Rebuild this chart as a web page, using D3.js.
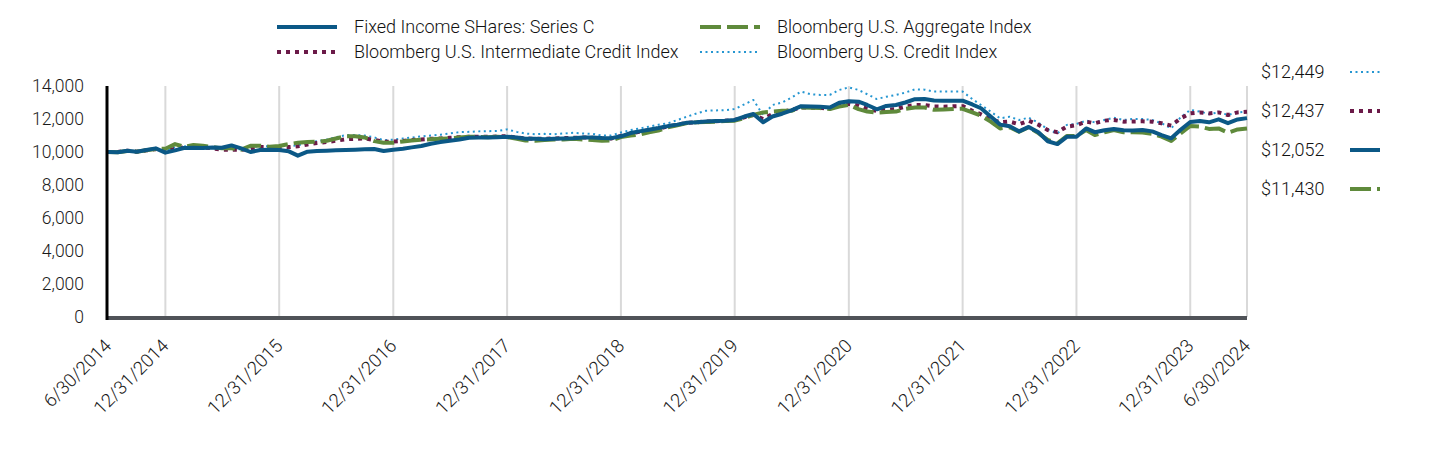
<!DOCTYPE html>
<html><head><meta charset="utf-8">
<script src="https://cdn.jsdelivr.net/npm/d3@7"></script>
<style>
html,body{margin:0;padding:0;background:#fff;}
text{font-family:Roboto,"Noto Sans",sans-serif;font-weight:300;}
</style></head>
<body><svg id="c" width="1440" height="456"></svg>
<script>
const seriesNames = ["Fixed Income SHares: Series C","Bloomberg U.S. Aggregate Index","Bloomberg U.S. Intermediate Credit Index","Bloomberg U.S. Credit Index"];
const tickLabels = ["6/30/2014","12/31/2014","12/31/2015","12/31/2016","12/31/2017","12/31/2018","12/31/2019","12/31/2020","12/31/2021","12/31/2022","12/31/2023","6/30/2024"];
const yTicks = [0,2000,4000,6000,8000,10000,12000,14000];
const endLabels = ["$12,449","$12,437","$12,052","$11,430"];
const endOrder = ["credit","inter","fund","agg"];

// monthly values in thousands, Jun 2014 .. Jun 2024
const fund = [10.00,9.98,10.08,10.02,10.12,10.22,9.96,10.10,10.24,10.26,10.24,10.28,10.26,10.40,10.22,10.00,10.12,10.14,10.12,10.04,9.78,10.02,10.06,10.08,10.10,10.12,10.14,10.16,10.18,10.06,10.14,10.20,10.28,10.36,10.50,10.60,10.68,10.76,10.86,10.88,10.88,10.90,10.93,10.88,10.80,10.80,10.78,10.80,10.82,10.84,10.88,10.88,10.85,10.84,10.95,11.15,11.25,11.35,11.45,11.57,11.66,11.78,11.80,11.85,11.88,11.90,11.94,12.15,12.30,11.80,12.15,12.32,12.52,12.78,12.76,12.74,12.70,12.98,13.08,13.05,12.85,12.59,12.79,12.85,13.00,13.20,13.21,13.12,13.11,13.11,13.11,12.88,12.65,12.15,11.66,11.56,11.25,11.52,11.20,10.65,10.48,10.92,10.93,11.43,11.20,11.32,11.40,11.32,11.30,11.33,11.25,11.02,10.83,11.35,11.82,11.88,11.80,11.98,11.75,11.97,12.052];
const agg = [10.00,9.98,10.06,10.02,10.10,10.18,10.20,10.48,10.32,10.42,10.38,10.30,10.22,10.22,10.14,10.38,10.38,10.32,10.36,10.48,10.56,10.60,10.62,10.68,10.82,10.95,10.96,10.88,10.66,10.56,10.56,10.64,10.70,10.74,10.77,10.80,10.83,10.88,10.93,10.92,10.90,10.92,10.90,10.80,10.70,10.68,10.72,10.75,10.76,10.80,10.76,10.72,10.68,10.70,10.90,11.00,11.05,11.20,11.30,11.50,11.62,11.75,11.80,11.82,11.84,11.88,11.90,12.05,12.25,12.40,12.45,12.50,12.50,12.70,12.68,12.66,12.60,12.75,12.85,12.60,12.45,12.38,12.42,12.45,12.62,12.70,12.70,12.56,12.58,12.60,12.62,12.40,12.20,11.84,11.43,11.50,11.23,11.50,11.15,10.73,10.52,10.97,10.97,11.33,11.03,11.20,11.33,11.20,11.20,11.18,11.10,10.93,10.67,11.13,11.58,11.54,11.40,11.43,11.17,11.37,11.430];
const inter = [10.00,10.00,10.08,10.02,10.10,10.18,10.05,10.20,10.28,10.30,10.28,10.22,10.14,10.14,10.12,10.22,10.30,10.30,10.30,10.30,10.35,10.46,10.54,10.60,10.68,10.77,10.80,10.82,10.73,10.62,10.63,10.67,10.72,10.76,10.80,10.82,10.86,10.90,10.92,10.93,10.92,10.94,10.96,10.88,10.82,10.80,10.80,10.82,10.84,10.86,10.88,10.86,10.82,10.82,10.98,11.12,11.22,11.32,11.42,11.55,11.65,11.76,11.80,11.85,11.86,11.90,11.94,12.10,12.25,12.00,12.30,12.45,12.55,12.70,12.68,12.68,12.62,12.86,12.92,12.82,12.62,12.48,12.55,12.60,12.75,12.85,12.85,12.76,12.75,12.77,12.78,12.50,12.28,12.00,11.80,11.84,11.68,11.90,11.65,11.33,11.20,11.54,11.62,11.84,11.74,11.90,11.94,11.84,11.85,11.86,11.84,11.74,11.60,12.04,12.34,12.40,12.34,12.40,12.24,12.40,12.437];
const credit = [10.00,10.00,10.08,10.02,10.12,10.20,10.10,10.28,10.34,10.38,10.35,10.28,10.20,10.18,10.16,10.28,10.35,10.35,10.36,10.36,10.40,10.56,10.65,10.75,10.90,11.02,11.03,11.00,10.88,10.72,10.75,10.82,10.88,10.95,11.00,11.05,11.12,11.20,11.22,11.25,11.26,11.28,11.37,11.22,11.12,11.08,11.10,11.08,11.12,11.16,11.12,11.10,11.00,11.00,11.18,11.33,11.42,11.54,11.65,11.74,11.94,12.14,12.34,12.50,12.52,12.54,12.60,12.89,13.15,12.24,12.85,13.00,13.30,13.66,13.50,13.46,13.46,13.76,13.92,13.76,13.50,13.21,13.35,13.46,13.60,13.80,13.78,13.66,13.66,13.66,13.66,13.21,12.85,12.45,12.04,12.14,11.94,12.08,11.78,11.37,11.13,11.64,11.70,11.90,11.80,11.94,12.08,11.94,12.00,12.00,11.94,11.74,11.43,12.10,12.55,12.45,12.30,12.40,12.25,12.40,12.449];

const styles = {
  fund:   {color:"#0b5886", width:4,   dash:null},
  agg:    {color:"#5f8a3b", width:4,   dash:"21,6"},
  inter:  {color:"#6b1a48", width:4,   dash:"4,5"},
  credit: {color:"#2596d1", width:2,   dash:"2,3.5"}
};
const dataMap = {fund, agg, inter, credit};
const nameMap = {fund:seriesNames[0], agg:seriesNames[1], inter:seriesNames[2], credit:seriesNames[3]};

const parse = d3.timeParse("%m/%d/%Y");
const dates = d3.timeMonth.range(new Date(2014,6,1), new Date(2024,7,1)).map(d => d3.timeDay.offset(d,-1));
const tickDates = tickLabels.map(parse);

const svg = d3.select("#c");
const L = 108, R = 1247, T = 86, B = 317;
const x = d3.scaleTime().domain([tickDates[0], tickDates[tickDates.length-1]]).range([L, R]);
const y = d3.scaleLinear().domain([0, 14000]).range([B, T]);

// vertical gridlines
svg.append("g").selectAll("line").data(tickDates.slice(1)).join("line")
  .attr("x1", d=>x(d)).attr("x2", d=>x(d)).attr("y1", T).attr("y2", B)
  .attr("stroke", "#d9d9d9").attr("stroke-width", 2);

// y axis labels
const yAxis = d3.axisLeft(y).tickValues(yTicks).tickFormat(d3.format(",")).tickSize(0).tickPadding(0);
const gy = svg.append("g").attr("transform", `translate(${L-24},0)`).call(yAxis);
gy.select(".domain").remove();
gy.selectAll("text").attr("font-size", 17.5).attr("fill", "#1a1a1a").attr("font-family","Roboto").attr("font-weight",300);

// x axis
const xAxis = d3.axisBottom(x).tickValues(tickDates).tickFormat((d,i)=>tickLabels[i]).tickSize(0);
const gx = svg.append("g").attr("transform", `translate(0,${B})`).call(xAxis);
gx.select(".domain").remove();
gx.selectAll("text").attr("font-size", 18.5).attr("fill", "#1a1a1a").attr("font-family","Roboto").attr("font-weight",300)
  .attr("text-anchor","end").attr("dy", 0)
  .attr("transform", "translate(4,30) rotate(-45)").attr("y", 0).attr("x", 0);

// lines
const line = d3.line().x((d,i)=>x(dates[i])).y(d=>y(d*1000));
["credit","inter","agg","fund"].forEach(k=>{
  const s = styles[k];
  svg.append("path").datum(dataMap[k]).attr("d", line)
    .attr("fill","none").attr("stroke", s.color).attr("stroke-width", s.width)
    .attr("stroke-dasharray", s.dash).attr("stroke-linejoin","round");
});

// axis lines
svg.append("line").attr("x1", L-1).attr("x2", R).attr("y1", B+1).attr("y2", B+1)
  .attr("stroke", "#505358").attr("stroke-width", 4);
svg.append("line").attr("x1", L-1).attr("x2", L-1).attr("y1", T).attr("y2", B+3)
  .attr("stroke", "#000").attr("stroke-width", 3);

// legend
const legItems = [
  {k:"fund", col:0, row:0},{k:"agg", col:1, row:0},
  {k:"inter", col:0, row:1},{k:"credit", col:1, row:1}
];
const colX = d3.scaleOrdinal().domain([0,1]).range([277, 700]);
const rowY = d3.scaleOrdinal().domain([0,1]).range([27, 52]);
const lg = svg.append("g");
legItems.forEach(it=>{
  const s = styles[it.k];
  const gx0 = colX(it.col), gy0 = rowY(it.row);
  lg.append("line").attr("x1", gx0).attr("x2", gx0+60).attr("y1", gy0).attr("y2", gy0)
    .attr("stroke", s.color).attr("stroke-width", s.width).attr("stroke-dasharray", s.dash);
  lg.append("text").attr("x", gx0+77).attr("y", gy0).attr("dy","0.35em")
    .attr("font-size", 18).attr("fill","#111").text(nameMap[it.k]);
});

// end labels
const ey = d3.scalePoint().domain(endOrder).range([72, 189]);
endOrder.forEach((k,i)=>{
  const s = styles[k];
  svg.append("text").attr("x", 1261).attr("y", ey(k)).attr("dy","0.35em")
    .attr("font-size", 18).attr("fill","#111").text(endLabels[i]);
  svg.append("line").attr("x1", 1350).attr("x2", 1380).attr("y1", ey(k)).attr("y2", ey(k))
    .attr("stroke", s.color).attr("stroke-width", s.width).attr("stroke-dasharray", s.dash);
});
</script></body></html>
